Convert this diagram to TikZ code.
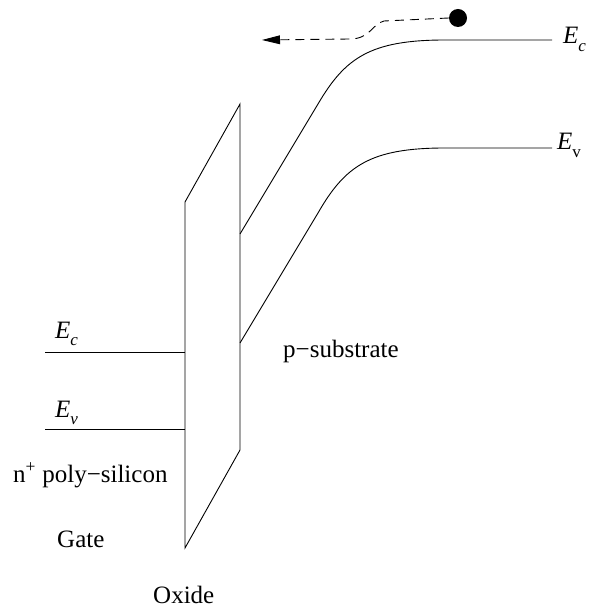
\documentclass[tikz,border=0pt]{standalone}
\usepackage{fontspec}
\setmainfont{Liberation Serif}
\usetikzlibrary{arrows.meta}
\newcommand{\Elab}[1]{\textit{E}\raisebox{-0.3em}{\fontsize{17}{19}\selectfont #1}}
\begin{document}
\begin{tikzpicture}[x=1pt,y=-1pt,
  band/.style={line width=0.9pt},
  lbl/.style={font=\fontsize{25}{28}\selectfont, inner sep=0pt}]
\useasboundingbox (0,0) rectangle (589,609);
% oxide
\coordinate (o1) at (185,202);
\coordinate (o2) at (240,104);
\coordinate (o3) at (240,450);
\coordinate (o4) at (185,548);
\draw[band] (o4) -- (o1) -- (o2) -- (o3) -- cycle;
% gate bands
\coordinate (gc0) at (45,352); \coordinate (gc1) at (185,352);
\coordinate (gv0) at (45,429); \coordinate (gv1) at (185,429);
\draw[band] (gc0) -- (gc1);
\draw[band] (gv0) -- (gv1);
% substrate bands
\coordinate (c0) at (240,234);
\coordinate (c1) at (318,104);
\coordinate (c2) at (445,40);
\coordinate (c3) at (552,40);
\draw[band] (c0) -- (c1) .. controls (345,58) and (370,40) .. (c2) -- (c3);
\coordinate (v0) at (240,343);
\coordinate (v1) at (318,213);
\coordinate (v2) at (445,148);
\coordinate (v3) at (552,148);
\draw[band] (v0) -- (v1) .. controls (345,166) and (370,148) .. (v2) -- (v3);
% electron
\node[circle, fill=black, minimum size=18pt, inner sep=0pt] (e) at (458,18) {};
\coordinate (d1) at (384,21);
\coordinate (d2) at (262,40);
\draw[band, dash pattern=on 9pt off 6pt, -{Kite[length=18pt,width=9pt,inset=0pt,sep=0pt]}]
  (e.west) -- (d1) .. controls (372,24) and (370,39) .. (350,39) -- (d2);
% labels
\node[lbl, anchor=base west] (lec) at (563,44) {\Elab{\textit{c}}};
\node[lbl, anchor=base west] (lev) at (557,150) {\Elab{v}};
\node[lbl, anchor=base west] (gec) at (55,338) {\Elab{\textit{c}}};
\node[lbl, anchor=base west] (gev) at (55,417) {\Elab{\textit{v}}};
\node[lbl, anchor=base west] (poly) at (13,482) {n\textsuperscript{+} poly\textminus silicon};
\node[lbl, anchor=base west] (gate) at (57,547) {Gate};
\node[lbl, anchor=base west] (ox) at (153,603) {Oxide};
\node[lbl, anchor=base west] (sub) at (283,357) {p\textminus substrate};
\end{tikzpicture}
\end{document}
